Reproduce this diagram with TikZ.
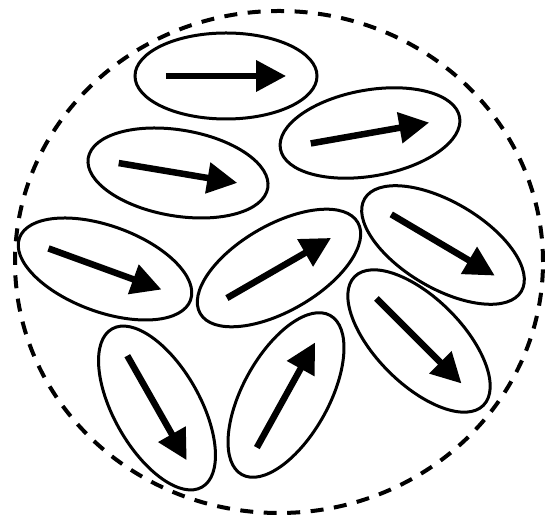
\documentclass[tikz,border=0pt]{standalone}
\usetikzlibrary{shapes.geometric, arrows.meta, calc}

\begin{document}
\begin{tikzpicture}[x=1pt,y=1pt,
  grain/.style={ellipse,draw=black,line width=3pt,minimum width=182pt,minimum height=86pt,inner sep=0pt},
  spin/.style={-{Triangle[length=30pt,width=30pt]},line width=6.5pt},
  bound/.style={ellipse,draw=black,line width=4pt,dash pattern=on 13pt off 10.5pt,minimum width=528pt,minimum height=502pt,inner sep=0pt}
]
  \useasboundingbox (0,0) rectangle (545,518);
  \node[bound] (dom) at (279,256) {};

  \foreach \n/\x/\y/\a in {1/226/442/0, 2/370/385/10, 3/178/345/-9.5, 4/105/249/-20, 5/279/250/30,
                           6/443/273/-30.6, 7/419/177/-45, 8/286/123/61, 9/157/110/-60.4}{
    \node[grain,rotate=\a] (g\n) at (\x,\y) {};
    \draw[spin] ($(g\n.center)!0.65!(g\n.west)$) -- ($(g\n.center)!0.65!(g\n.east)$);
  }
\end{tikzpicture}
\end{document}
